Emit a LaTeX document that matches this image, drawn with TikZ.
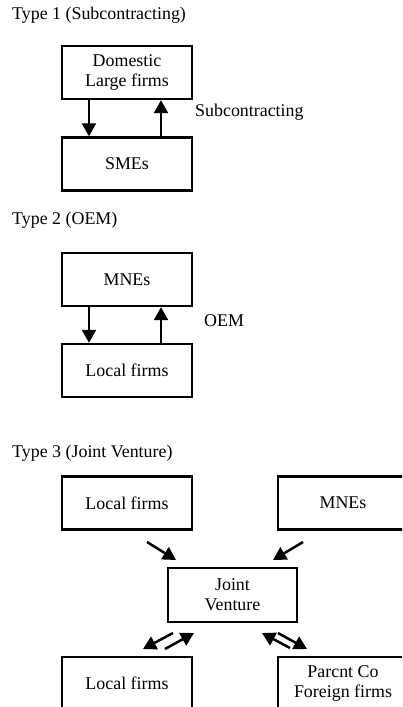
\documentclass[tikz,border=0pt]{standalone}
\usepackage{fontspec}
\setmainfont{Liberation Serif}
\usetikzlibrary{arrows.meta}
\begin{document}
\begin{tikzpicture}[x=1pt,y=-1pt,
  every node/.style={font=\fontsize{17.9}{20}\selectfont},
  box/.style={draw,line width=2.4pt,minimum width=130pt,minimum height=53pt,align=center,inner sep=0pt},
  lbl/.style={anchor=west,inner sep=0pt},
  arr/.style={line width=2.5pt,-{Triangle[length=13pt,width=14pt]}}]
\useasboundingbox (0,0) rectangle (402,707);
\clip (0,0) rectangle (402,707);
% Type 1
\node[lbl] (t1) at (12,15) {Type 1 (Subcontracting)};
\node[box] (dlf) at (127,72.5) {Domestic\\Large firms};
\node[box] (sme) at (127,164) {SMEs};
\draw[arr] ([xshift=-38pt]dlf.south) -- ([xshift=-38pt]sme.north);
\draw[arr] ([xshift=34pt]sme.north) -- ([xshift=34pt]dlf.south);
\node[lbl] (sub) at (195,112) {Subcontracting};
% Type 2
\node[lbl] (t2) at (12,220) {Type 2 (OEM)};
\node[box] (mne2) at (127,279.5) {MNEs};
\node[box] (loc2) at (127,370.5) {Local firms};
\draw[arr] ([xshift=-38pt]mne2.south) -- ([xshift=-38pt]loc2.north);
\draw[arr] ([xshift=34pt]loc2.north) -- ([xshift=34pt]mne2.south);
\node[lbl] (oem) at (204,321) {OEM};
% Type 3
\node[lbl] (t3) at (12,453) {Type 3 (Joint Venture)};
\node[box] (loc3) at (127,503) {Local firms};
\node[box] (mne3) at (343,503) {MNEs};
\node[box,minimum width=129pt,minimum height=54pt] (jv) at (232.5,595) {Joint\\Venture};
\node[box] (loc4) at (127,683.5) {Local firms};
\node[box] (par) at (343,683.5) {Parcnt Co\\Foreign firms};
\coordinate (a1) at (147,542); \coordinate (a2) at (176,560);
\coordinate (b1) at (303,542); \coordinate (b2) at (273,560);
\coordinate (c1) at (173,633); \coordinate (c2) at (143,649);
\coordinate (d1) at (165,649); \coordinate (d2) at (194,633);
\coordinate (e1) at (290,648); \coordinate (e2) at (262,633);
\coordinate (f1) at (278,633); \coordinate (f2) at (307,649);
\draw[arr] (a1) -- (a2);
\draw[arr] (b1) -- (b2);
\draw[arr] (c1) -- (c2);
\draw[arr] (d1) -- (d2);
\draw[arr] (e1) -- (e2);
\draw[arr] (f1) -- (f2);
\end{tikzpicture}
\end{document}
